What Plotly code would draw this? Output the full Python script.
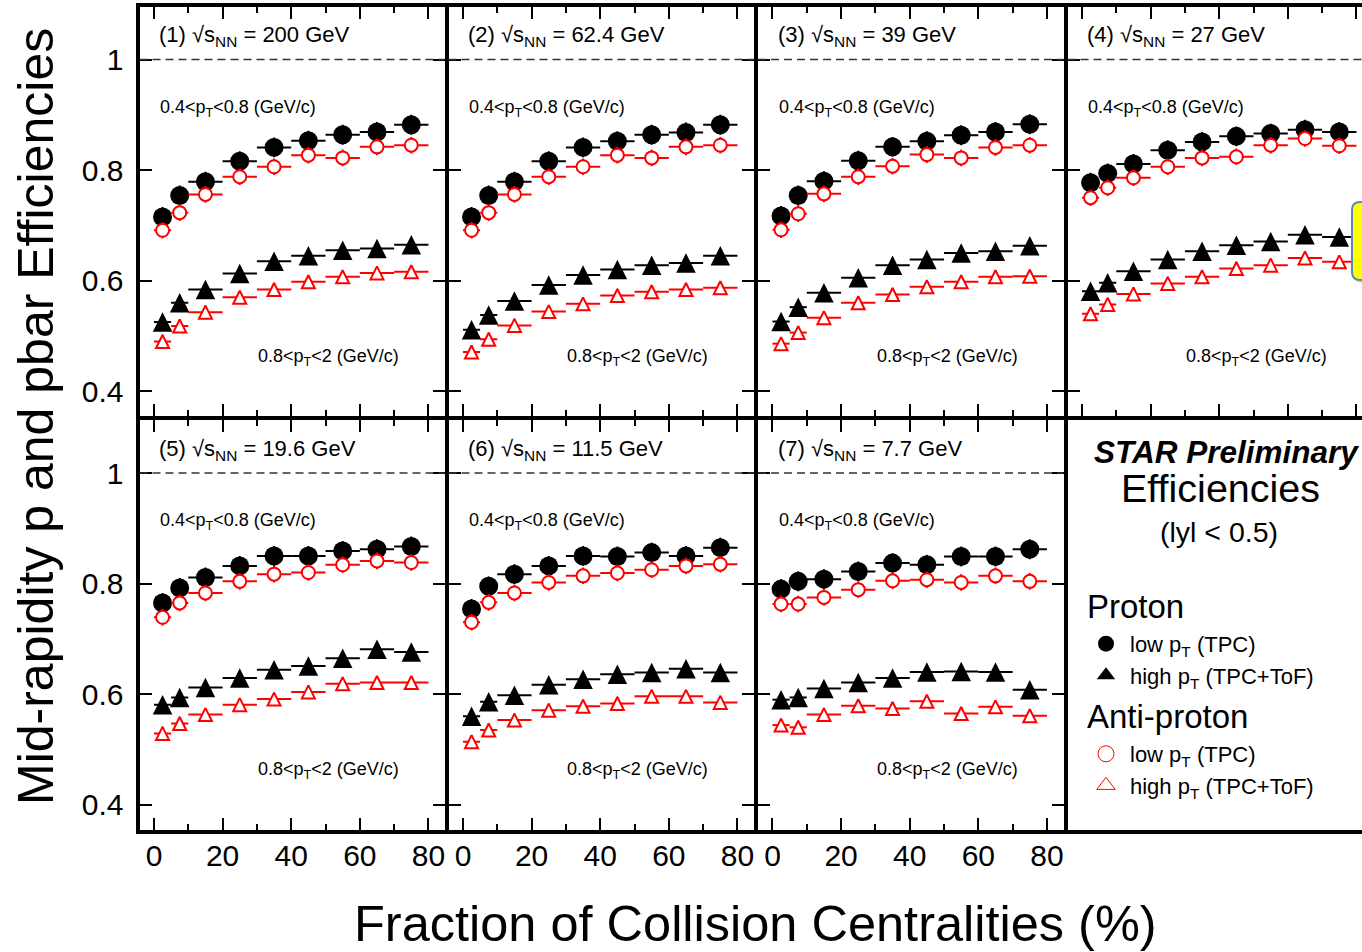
import plotly.graph_objects as go

# ---------------- data ----------------
cent_lo = [0, 5, 10, 20, 30, 40, 50, 60, 70]
cent_hi = [5, 10, 20, 30, 40, 50, 60, 70, 80]
energies = ["200", "62.4", "39", "27", "19.6", "11.5", "7.7"]

proton_low = [
    [0.715, 0.754, 0.779, 0.816, 0.841, 0.853, 0.864, 0.869, 0.882],
    [0.715, 0.754, 0.779, 0.816, 0.841, 0.852, 0.864, 0.868, 0.882],
    [0.717, 0.754, 0.780, 0.817, 0.842, 0.852, 0.863, 0.869, 0.883],
    [0.777, 0.794, 0.811, 0.836, 0.851, 0.861, 0.866, 0.873, 0.869],
    [0.765, 0.792, 0.811, 0.832, 0.850, 0.850, 0.859, 0.862, 0.867],
    [0.754, 0.795, 0.817, 0.832, 0.850, 0.849, 0.856, 0.850, 0.865],
    [0.790, 0.804, 0.808, 0.822, 0.837, 0.834, 0.849, 0.849, 0.862],
]
pbar_low = [
    [0.691, 0.723, 0.756, 0.788, 0.806, 0.827, 0.822, 0.842, 0.845],
    [0.691, 0.723, 0.756, 0.788, 0.806, 0.827, 0.822, 0.842, 0.845],
    [0.692, 0.721, 0.757, 0.788, 0.807, 0.828, 0.822, 0.841, 0.845],
    [0.750, 0.768, 0.786, 0.806, 0.822, 0.824, 0.845, 0.857, 0.844],
    [0.739, 0.765, 0.783, 0.804, 0.817, 0.820, 0.834, 0.841, 0.838],
    [0.730, 0.766, 0.783, 0.802, 0.814, 0.819, 0.825, 0.832, 0.835],
    [0.763, 0.763, 0.775, 0.789, 0.805, 0.807, 0.802, 0.814, 0.804],
]
proton_high = [
    [0.525, 0.560, 0.584, 0.613, 0.635, 0.645, 0.655, 0.658, 0.665],
    [0.511, 0.538, 0.563, 0.592, 0.610, 0.620, 0.628, 0.632, 0.645],
    [0.526, 0.552, 0.578, 0.605, 0.628, 0.638, 0.650, 0.653, 0.663],
    [0.581, 0.596, 0.617, 0.638, 0.653, 0.664, 0.671, 0.683, 0.679],
    [0.581, 0.594, 0.612, 0.629, 0.644, 0.651, 0.665, 0.681, 0.676],
    [0.560, 0.586, 0.598, 0.617, 0.627, 0.636, 0.639, 0.646, 0.639],
    [0.590, 0.594, 0.610, 0.621, 0.629, 0.640, 0.641, 0.640, 0.608],
]
pbar_high = [
    [0.490, 0.518, 0.543, 0.570, 0.584, 0.598, 0.607, 0.614, 0.616],
    [0.471, 0.494, 0.519, 0.544, 0.558, 0.573, 0.580, 0.584, 0.587],
    [0.486, 0.506, 0.533, 0.560, 0.575, 0.589, 0.598, 0.607, 0.608],
    [0.540, 0.557, 0.576, 0.595, 0.607, 0.622, 0.628, 0.641, 0.634],
    [0.529, 0.547, 0.563, 0.581, 0.591, 0.604, 0.619, 0.621, 0.621],
    [0.514, 0.535, 0.553, 0.571, 0.578, 0.583, 0.596, 0.596, 0.585],
    [0.544, 0.540, 0.563, 0.579, 0.574, 0.587, 0.565, 0.577, 0.561],
]
err_proton_low = [0.018, 0.018, 0.018, 0.018, 0.018, 0.018, 0.018, 0.018, 0.018]
err_pbar_low = [0.015, 0.015, 0.015, 0.015, 0.015, 0.015, 0.015, 0.015, 0.015]
err_proton_high = [0.012, 0.012, 0.012, 0.012, 0.012, 0.012, 0.012, 0.012, 0.012]
err_pbar_high = [0.012, 0.012, 0.012, 0.012, 0.012, 0.012, 0.012, 0.012, 0.012]

x_ticks = [0, 20, 40, 60, 80]
x_minor_ticks = [10, 30, 50, 70]
y_ticks = [0.4, 0.6, 0.8, 1.0]
y_ticklabels = ["0.4", "0.6", "0.8", "1"]

# ---------------- geometry ----------------
W, H = 1362, 952
FONT = "Liberation Sans, Arial, Helvetica, sans-serif"
LW = 4
col_edges = [137.5, 446.5, 756.0, 1065.5, W]
row_edges = [5.0, 418.0, 831.5]
X_AT_FRAME = -4.8     # x value at left frame edge
PXX = 3.431           # px per x unit
Y_AT_FRAME = 0.3515   # y value at bottom frame edge
PXY = 552.8           # px per y unit

xc = [(a + b) / 2 for a, b in zip(cent_lo, cent_hi)]
xw = [(b - a) / 2 for a, b in zip(cent_lo, cent_hi)]


def xgeom(col):
    L, R = col_edges[col], col_edges[col + 1]
    l = L + LW / 2
    r = R - LW / 2 if col < 3 else R
    return [l / W, r / W], [X_AT_FRAME + (l - L) / PXX, X_AT_FRAME + (r - L) / PXX]


def ygeom(row):
    T, B = row_edges[row], row_edges[row + 1]
    t = T + LW / 2
    b = B - LW / 2
    return [1 - b / H, 1 - t / H], [Y_AT_FRAME + (B - b) / PXY, Y_AT_FRAME + (B - t) / PXY]


def px(v):
    return v / W


def py(v):
    return 1 - v / H


fig = go.Figure()

series = [
    (proton_low, err_proton_low, dict(symbol="circle", size=19, color="black"), "black"),
    (pbar_low, err_pbar_low, dict(symbol="circle", size=13, color="white", line=dict(width=2, color="red")), "red"),
    (proton_high, err_proton_high, dict(symbol="arrow-down", angle=180, standoff=9.75, size=19.5, color="black"), "black"),
    (pbar_high, err_pbar_high, dict(symbol="arrow-down", angle=180, standoff=6.5, size=13, color="white", line=dict(width=2, color="red")), "red"),
]

layout_axes = {}
annotations = []
shapes = []

for i, e in enumerate(energies):
    row, col = i // 4, i % 4
    n = i + 1
    xs = "" if n == 1 else str(n)
    xd, xr = xgeom(col)
    yd, yr = ygeom(row)
    for vals, err, mk, ecol in series:
        fig.add_trace(go.Scatter(
            x=xc, y=vals[i], mode="markers", marker=mk,
            error_x=dict(type="data", array=xw, symmetric=True, thickness=2, width=0, color=ecol),
            error_y=dict(type="data", array=err, symmetric=True, thickness=2, width=0, color=ecol),
            xaxis="x" + xs, yaxis="y" + xs, showlegend=False, hoverinfo="skip",
        ))
    layout_axes["xaxis" + xs] = dict(
        domain=xd, range=xr, anchor="y" + xs,
        tickmode="array", tickvals=x_ticks, ticks="inside", ticklen=12, tickwidth=1.5, tickcolor="black",
        minor=dict(ticks="inside", ticklen=6, tickwidth=1.5, tickcolor="black", tickmode="array",
                   tickvals=x_minor_ticks),
        showline=True, linewidth=LW, linecolor="black", mirror="ticks",
        showgrid=False, zeroline=False,
        showticklabels=(row == 1), tickfont=dict(size=30, family=FONT, color="black"),
        ticklabelstandoff=-4, fixedrange=True,
    )
    layout_axes["yaxis" + xs] = dict(
        domain=yd, range=yr, anchor="x" + xs,
        tickmode="array", tickvals=y_ticks, ticktext=y_ticklabels,
        ticks="inside", ticklen=12, tickwidth=1.5, tickcolor="black",
        showline=True, linewidth=LW, linecolor="black", mirror=("ticks" if col < 3 else False),
        showgrid=False, zeroline=False,
        showticklabels=(col == 0), tickfont=dict(size=30, family=FONT, color="black"),
        ticklabelstandoff=6, fixedrange=True,
    )
    shapes.append(dict(type="line", xref="x" + xs + " domain", yref="y" + xs,
                       x0=0, x1=1, y0=1.0, y1=1.0,
                       line=dict(color="#333", width=1.5, dash="8px,5px")))
    annotations.append(dict(xref="x" + xs, yref="y" + xs, x=0.9, y=1.042, xanchor="left", yanchor="middle",
                            text="(%d) √s<sub>NN</sub> = %s GeV" % (n, e), showarrow=False,
                            font=dict(size=22, family=FONT, color="black")))
    annotations.append(dict(xref="x" + xs, yref="y" + xs, x=1.2, y=0.912, xanchor="left", yanchor="middle",
                            text="0.4&lt;p<sub>T</sub>&lt;0.8 (GeV/c)", showarrow=False,
                            font=dict(size=18, family=FONT, color="black")))
    annotations.append(dict(xref="x" + xs, yref="y" + xs, x=29.8, y=0.461, xanchor="left", yanchor="middle",
                            text="0.8&lt;p<sub>T</sub>&lt;2 (GeV/c)", showarrow=False,
                            font=dict(size=18, family=FONT, color="black")))

# legend box panel (its right side is cut off by the picture edge)
xd8 = [(col_edges[3] + LW / 2) / W, 1.0]
yd8, _ = ygeom(1)
layout_axes["xaxis8"] = dict(domain=xd8, range=[0, 1], anchor="y8", showline=True, linewidth=LW,
                             linecolor="black", mirror=True, ticks="", showticklabels=False,
                             showgrid=False, zeroline=False, fixedrange=True)
layout_axes["yaxis8"] = dict(domain=yd8, range=[0, 1], anchor="x8", showline=True, linewidth=LW,
                             linecolor="black", mirror=False, ticks="", showticklabels=False,
                             showgrid=False, zeroline=False, fixedrange=True)

# legend entries (legend-only traces, no data points)
leg_items = [
    ("p", "Proton", "low p<sub>T</sub> (TPC)", dict(symbol="circle", size=16, color="black")),
    ("p", "Proton", "high p<sub>T</sub> (TPC+ToF)", dict(symbol="triangle-up", size=16, color="black")),
    ("pbar", "Anti-proton", "low p<sub>T</sub> (TPC)", dict(symbol="circle-open", size=16, color="red", line=dict(width=1, color="red"))),
    ("pbar", "Anti-proton", "high p<sub>T</sub> (TPC+ToF)", dict(symbol="triangle-up-open", size=16, color="red", line=dict(width=1, color="red"))),
]
for grp, gtitle, name, mk in leg_items:
    fig.add_trace(go.Scatter(x=[None], y=[None], mode="markers", marker=mk, name=name,
                             legendgroup=grp, legendgrouptitle=dict(text=gtitle, font=dict(size=33, family=FONT, color="black")),
                             xaxis="x8", yaxis="y8", showlegend=True))

annotations += [
    dict(xref="paper", yref="paper", x=px(1226), y=py(452), xanchor="center", yanchor="middle",
         text="<b><i>STAR Preliminary</i></b>", showarrow=False, font=dict(size=31.5, family=FONT, color="black")),
    dict(xref="paper", yref="paper", x=px(1220), y=py(488), xanchor="center", yanchor="middle",
         text="Efficiencies", showarrow=False, font=dict(size=39.5, family=FONT, color="black")),
    dict(xref="paper", yref="paper", x=px(1219), y=py(532), xanchor="center", yanchor="middle",
         text="(lyl &lt; 0.5)", showarrow=False, font=dict(size=28.5, family=FONT, color="black")),
    dict(xref="paper", yref="paper", x=px(755), y=py(923), xanchor="center", yanchor="middle",
         text="Fraction of Collision Centralities (%)", showarrow=False, font=dict(size=50.5, family=FONT, color="black")),
    dict(xref="paper", yref="paper", x=px(36), y=py(417), xanchor="center", yanchor="middle",
         text="Mid-rapidity p and pbar Efficiencies", textangle=-90, showarrow=False,
         font=dict(size=50, family=FONT, color="black")),
]


# yellow call-out box (cut at the right edge)
def rounded_left(x0, y0, y1, xr, r):
    return (f"M {px(xr)},{py(y0)} L {px(x0 + r)},{py(y0)} Q {px(x0)},{py(y0)} {px(x0)},{py(y0 + r)} "
            f"L {px(x0)},{py(y1 - r)} Q {px(x0)},{py(y1)} {px(x0 + r)},{py(y1)} L {px(xr)},{py(y1)} Z")


shapes.append(dict(type="path", xref="paper", yref="paper", path=rounded_left(1354, 205, 283, 1380, 8),
                   fillcolor="rgba(0,0,0,0.18)", line=dict(width=0)))
shapes.append(dict(type="path", xref="paper", yref="paper", path=rounded_left(1352, 202, 280, 1380, 8),
                   fillcolor="#ffff00", line=dict(color="#5a87c8", width=2)))

fig.update_layout(
    width=W, height=H, margin=dict(l=0, r=0, t=0, b=0),
    paper_bgcolor="white", plot_bgcolor="white",
    font=dict(family=FONT, color="black"),
    annotations=annotations, shapes=shapes,
    showlegend=True,
    legend=dict(x=px(1082), y=py(577), xanchor="left", yanchor="top",
                font=dict(size=22, family=FONT, color="black"),
                grouptitlefont=dict(size=33, family=FONT, color="black"),
                itemwidth=38, tracegroupgap=1, bgcolor="rgba(0,0,0,0)", borderwidth=0,
                traceorder="grouped"),
    hovermode=False,
    **layout_axes,
)

fig.write_html("out.html", config={"displayModeBar": False},
               post_script="document.body.style.margin='0';document.body.style.overflow='hidden';")
